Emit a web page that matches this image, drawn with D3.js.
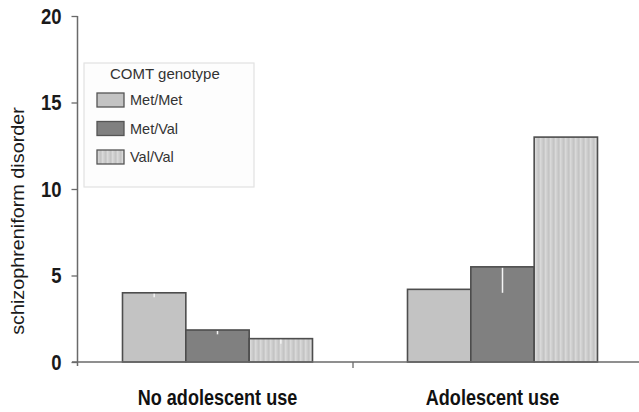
<!DOCTYPE html>
<html>
<head>
<meta charset="utf-8">
<script src="https://cdn.jsdelivr.net/npm/d3@7"></script>
<style>
  html, body { margin: 0; padding: 0; background: #fff; }
  svg { display: block; }
</style>
</head>
<body>
<svg id="chart" width="639" height="412"></svg>
<script>
// Cannabis use groups, COMT genotypes and % with schizophreniform disorder
const groups = ["No adolescent use", "Adolescent use"];
const genotypes = ["Met/Met", "Met/Val", "Val/Val"];
const noAdolescentUse = [4.0, 1.85, 1.35];
const adolescentUse = [4.2, 5.5, 13.0];
// lower half of the error bars (drawn in white inside the bars)
const noAdolescentErr = [0.25, 0.25, 0.3];
const adolescentErr = [0, 1.5, 0];
const yTicks = [0, 5, 10, 15, 20];
const yTitle = "schizophreniform disorder";
const legendTitle = "COMT genotype";

const seriesByGroup = [noAdolescentUse, adolescentUse];
const errByGroup = [noAdolescentErr, adolescentErr];

const svg = d3.select("#chart");
const W = 639, H = 412;
const axisX = 77.5, baseY = 362, topY = 16;
const narrow = 0.84; // horizontal squeeze for the bold labels

const y = d3.scaleLinear().domain([0, 20]).range([baseY, topY]);
const x0 = d3.scaleBand().domain(groups).range([75, 645]).paddingInner(1 / 3).paddingOuter(1 / 6);
const x1 = d3.scaleBand().domain(genotypes).range([0, x0.bandwidth()]);

const fills = {"Met/Met": "#c3c3c3", "Met/Val": "#808080", "Val/Val": "url(#stripes)"};

// faint vertical stripes for the Val/Val bars
const defs = svg.append("defs");
const pat = defs.append("pattern").attr("id", "stripes").attr("patternUnits", "userSpaceOnUse")
  .attr("width", 5).attr("height", 10);
pat.append("rect").attr("width", 5).attr("height", 10).attr("fill", "#cbcbcb");
pat.append("rect").attr("x", 0).attr("width", 1.5).attr("height", 10).attr("fill", "#d9d9d9");
pat.append("rect").attr("x", 3).attr("width", 1).attr("height", 10).attr("fill", "#c4c4c4");

const rows = [];
groups.forEach((g, gi) => genotypes.forEach((k, ki) => rows.push({
  group: g, genotype: k, value: seriesByGroup[gi][ki], err: errByGroup[gi][ki]
})));

// bars
svg.append("g").selectAll("rect").data(rows).join("rect")
  .attr("x", d => x0(d.group) + x1(d.genotype))
  .attr("y", d => y(d.value))
  .attr("width", x1.bandwidth())
  .attr("height", d => y(0) - y(d.value))
  .attr("fill", d => fills[d.genotype])
  .attr("stroke", "#4d4d4d")
  .attr("stroke-width", 1.6);

// white lower error whiskers
svg.append("g").selectAll("line").data(rows.filter(d => d.err > 0)).join("line")
  .attr("x1", d => x0(d.group) + x1(d.genotype) + x1.bandwidth() / 2)
  .attr("x2", d => x0(d.group) + x1(d.genotype) + x1.bandwidth() / 2)
  .attr("y1", d => y(d.value) + 1)
  .attr("y2", d => y(d.value - d.err))
  .attr("stroke", "#f4f4f4")
  .attr("stroke-width", 1.5);

// x baseline with a tick between the groups
svg.append("line").attr("x1", 72).attr("x2", W).attr("y1", baseY).attr("y2", baseY)
  .attr("stroke", "#6a6a6a").attr("stroke-width", 1.5);
const midX = (x0(groups[0]) + x0.bandwidth() + x0(groups[1])) / 2 - 7;
svg.append("line").attr("x1", midX).attr("x2", midX).attr("y1", baseY).attr("y2", baseY + 6)
  .attr("stroke", "#6a6a6a").attr("stroke-width", 1.3);

// y axis
const yAxis = svg.append("g").attr("transform", `translate(${axisX},0)`)
  .call(d3.axisLeft(y).tickValues(yTicks).tickSize(6).tickPadding(10).tickSizeOuter(0));
yAxis.select(".domain").attr("stroke", "#6a6a6a").attr("stroke-width", 1.5)
  .attr("d", `M0,${topY}V${baseY + 4}`);
yAxis.selectAll(".tick line").attr("stroke", "#6a6a6a").attr("stroke-width", 1.3);
yAxis.selectAll(".tick text")
  .attr("fill", "#1a1a1a")
  .attr("x", -16 / narrow)
  .attr("transform", `scale(${narrow},1)`)
  .style("font-family", "'Liberation Sans', Arial, sans-serif")
  .style("font-weight", "bold")
  .style("font-size", "22px");

// y axis title
svg.append("text")
  .attr("transform", "translate(24,221) rotate(-90) scale(1,0.9)")
  .attr("text-anchor", "middle")
  .attr("fill", "#1a1a1a")
  .style("font-family", "'Liberation Sans', Arial, sans-serif")
  .style("font-size", "19.8px")
  .text(yTitle);

// group labels
svg.append("g").selectAll("text").data(groups).join("text")
  .attr("transform", (d, i) =>
    `translate(${x0(d) + x0.bandwidth() / 2 - (i === 1 ? 10 : 0)},405) scale(${narrow},1)`)
  .attr("text-anchor", "middle")
  .attr("fill", "#111")
  .style("font-family", "'Liberation Sans', Arial, sans-serif")
  .style("font-weight", "bold")
  .style("font-size", "21.5px")
  .text(d => d);

// legend
const lg = svg.append("g");
lg.append("rect").attr("x", 84).attr("y", 63).attr("width", 170).attr("height", 124)
  .attr("fill", "#fdfdfd").attr("stroke", "#e2e2e2").attr("stroke-width", 1.2);
lg.append("text").attr("x", 110).attr("y", 79)
  .attr("fill", "#333")
  .style("font-family", "'Liberation Sans', Arial, sans-serif")
  .style("font-size", "15px")
  .text(legendTitle);
const items = lg.selectAll("g.item").data(genotypes).join("g")
  .attr("class", "item")
  .attr("transform", (d, i) => `translate(97,${93 + i * 28.5})`);
items.append("rect").attr("width", 27).attr("height", 14)
  .attr("fill", d => fills[d]).attr("stroke", "#555").attr("stroke-width", 1.3);
items.append("text").attr("x", 33).attr("y", 12)
  .attr("fill", "#333")
  .style("font-family", "'Liberation Sans', Arial, sans-serif")
  .style("font-size", "14.5px")
  .text(d => d);
</script>
</body>
</html>
